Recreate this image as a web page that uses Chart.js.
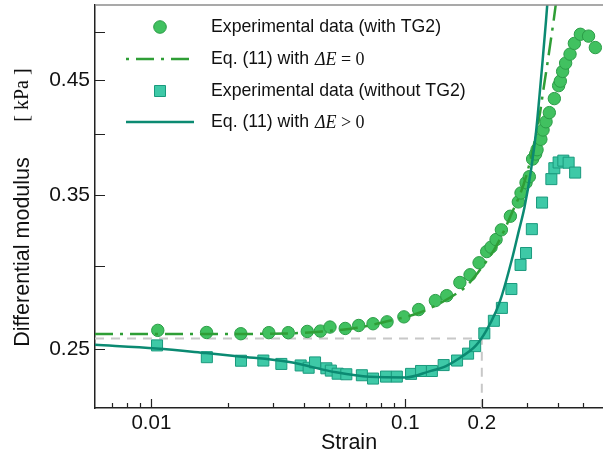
<!DOCTYPE html>
<html>
<head>
<meta charset="utf-8">
<script src="https://cdn.jsdelivr.net/npm/chart.js@4.4.1/dist/chart.umd.min.js"></script>
<style>
html, body { margin: 0; padding: 0; background: #fff; }
#wrap { position: relative; width: 603px; height: 457px; }
</style>
</head>
<body>
<div id="wrap"><canvas id="graph"></canvas></div>
<script>
// experimental data, with TG2 (circles)
var withTg2Strain = [0.0106, 0.0165, 0.0225, 0.0290, 0.0346, 0.0411, 0.0463, 0.0505, 0.0580, 0.0655,
  0.0746, 0.0847, 0.0987, 0.1128, 0.1313, 0.1455, 0.1639, 0.1798, 0.1951, 0.2090,
  0.2175, 0.2276, 0.2388, 0.2591, 0.2785, 0.2854, 0.2986, 0.3077, 0.3170, 0.3258,
  0.3300, 0.3416, 0.3484, 0.3580, 0.3689, 0.3860, 0.4013, 0.4075, 0.4161, 0.4276,
  0.4450, 0.4628, 0.4887, 0.5264, 0.5598];
var withTg2Modulus = [0.2606, 0.2594, 0.2587, 0.2593, 0.2593, 0.2600, 0.2602, 0.2625, 0.2617, 0.2634,
  0.2644, 0.2655, 0.2684, 0.2727, 0.2781, 0.2811, 0.2893, 0.2942, 0.3020, 0.3095,
  0.3125, 0.3177, 0.3245, 0.3343, 0.3449, 0.3517, 0.3597, 0.3644, 0.3787, 0.3829,
  0.3865, 0.3954, 0.4035, 0.4108, 0.4191, 0.4321, 0.4445, 0.4489, 0.4585, 0.4669,
  0.4761, 0.4874, 0.4972, 0.4952, 0.4830];

// experimental data, without TG2 (squares)
var withoutTg2Strain = [0.01053, 0.01654, 0.02254, 0.02760, 0.03249, 0.03871, 0.04162, 0.04410, 0.04887, 0.05089,
  0.05413, 0.05857, 0.06742, 0.07461, 0.08395, 0.09257, 0.1053, 0.1153, 0.1272, 0.1415,
  0.1598, 0.1766, 0.1883, 0.2046, 0.2231, 0.2399, 0.2615, 0.2841, 0.2986, 0.3148,
  0.3453, 0.3757, 0.3860, 0.4013, 0.4188, 0.4394, 0.4661];
var withoutTg2Modulus = [0.2522, 0.2458, 0.2439, 0.2440, 0.2422, 0.2414, 0.2402, 0.2430, 0.2399, 0.2387,
  0.2371, 0.2368, 0.2363, 0.2346, 0.2356, 0.2356, 0.2370, 0.2385, 0.2385, 0.2416,
  0.2440, 0.2477, 0.2518, 0.2589, 0.2661, 0.2737, 0.2852, 0.3006, 0.3085, 0.3250,
  0.3444, 0.3625, 0.3712, 0.3759, 0.3774, 0.3757, 0.3677];

// Eq. (11) with dE = 0 (dash-dot)
var fitFlatStrain = [0.006, 0.01545, 0.03494, 0.04712, 0.06471, 0.08889, 0.1135, 0.1490, 0.1734, 0.2016,
  0.2276, 0.2608, 0.2986, 0.3370, 0.3493, 0.3633, 0.3730, 0.3837, 0.3966];
var fitFlatModulus = [0.2585, 0.2585, 0.2589, 0.2600, 0.2621, 0.2665, 0.2708, 0.2797, 0.2869, 0.2997,
  0.3130, 0.3353, 0.3644, 0.4153, 0.4401, 0.4682, 0.4890, 0.5126, 0.5448];

// Eq. (11) with dE > 0 (solid)
var fitDropStrain = [0.006, 0.01046, 0.01642, 0.02222, 0.03494, 0.05335, 0.07215, 0.1006, 0.1243, 0.1446,
  0.1681, 0.1898, 0.2078, 0.2276, 0.2382, 0.2645, 0.2785, 0.2942, 0.3125, 0.3270,
  0.3370, 0.3472, 0.3580, 0.3656];
var fitDropModulus = [0.2525, 0.2505, 0.2480, 0.2462, 0.2432, 0.2378, 0.2355, 0.2352, 0.2383, 0.2411,
  0.2464, 0.2522, 0.2602, 0.2717, 0.2797, 0.3062, 0.3224, 0.3405, 0.3699, 0.4018,
  0.4335, 0.4699, 0.5126, 0.5471];

// grey dashed guide
var guideStrain = [0.006, 0.2, 0.2];
var guideModulus = [0.256, 0.256, 0.22];

var xMin = 0.006, xMax = 0.6;
var yMin = 0.22, yMax = 0.53;
var xMajorTicks = [0.01, 0.1, 0.2];
var xMajorLabels = ['0.01', '0.1', '0.2'];
var xMinorTicks = [0.007, 0.008, 0.009, 0.02, 0.03, 0.04, 0.05, 0.06, 0.07, 0.08, 0.09, 0.3, 0.4, 0.5];
var yTickValues = [0.25, 0.3, 0.35, 0.4, 0.45, 0.5];
var yTickLabels = ['0.25', '', '0.35', '', '0.45', ''];

var legendLabels = ['Experimental data (with TG2)', 'Eq. (11) with ', 'Experimental data (without TG2)', 'Eq. (11) with '];
var legendMath = ['', ['\u0394E', ' = 0'], '', ['\u0394E', ' > 0']];

var SANS = '"Liberation Sans", Arial, sans-serif';
var SERIF = '"Liberation Serif", "Times New Roman", serif';

function pairs(xs, ys) {
  var out = [];
  for (var i = 0; i < xs.length; i++) {
    out.push({x: xs[i], y: ys[i]});
  }
  return out;
}

var greenLine = '#2f9e36';
var tealLine = '#0b8a72';

var frame = {
  id: 'frame',
  afterDraw: function(chart) {
    var ctx = chart.ctx;
    var a = chart.chartArea;
    var xs = chart.scales.x, ys = chart.scales.y;
    var i, p;
    ctx.save();
    ctx.strokeStyle = '#8c8c8c';
    ctx.lineWidth = 1.5;
    ctx.beginPath();
    ctx.moveTo(a.left, a.top);
    ctx.lineTo(a.right, a.top);
    ctx.stroke();

    ctx.strokeStyle = '#222';
    ctx.lineWidth = 1.2;
    ctx.beginPath();
    for (i = 0; i < yTickValues.length; i++) {
      p = Math.round(ys.getPixelForValue(yTickValues[i])) + 0.5;
      ctx.moveTo(a.left, p);
      ctx.lineTo(a.left + 10, p);
    }
    for (i = 0; i < xMajorTicks.length; i++) {
      p = Math.round(xs.getPixelForValue(xMajorTicks[i])) + 0.5;
      ctx.moveTo(p, a.bottom);
      ctx.lineTo(p, a.bottom - 9);
    }
    for (i = 0; i < xMinorTicks.length; i++) {
      p = Math.round(xs.getPixelForValue(xMinorTicks[i])) + 0.5;
      ctx.moveTo(p, a.bottom);
      ctx.lineTo(p, a.bottom - 5);
    }
    ctx.stroke();

    // y axis title, mixed fonts
    ctx.fillStyle = '#111';
    ctx.textAlign = 'center';
    ctx.textBaseline = 'middle';
    ctx.translate(23, 0);
    ctx.rotate(-Math.PI / 2);
    ctx.font = '21.5px ' + SANS;
    ctx.fillText('Differential modulus', -252, 0);
    ctx.font = '20px ' + SERIF;
    ctx.fillText('[ kPa ]', -95, 0);
    ctx.restore();
  }
};

var legendBox = {
  id: 'legendBox',
  afterDraw: function(chart) {
    var ctx = chart.ctx;
    var ds = chart.data.datasets;
    var rows = [27, 59, 91, 122];
    ctx.save();

    // circle
    ctx.beginPath();
    ctx.arc(160, rows[0], 6.3, 0, Math.PI * 2);
    ctx.fillStyle = ds[3].backgroundColor;
    ctx.fill();
    ctx.lineWidth = 1;
    ctx.strokeStyle = ds[3].borderColor;
    ctx.stroke();

    // dash-dot
    ctx.beginPath();
    ctx.setLineDash([3, 7, 18, 7]);
    ctx.lineWidth = ds[1].borderWidth;
    ctx.strokeStyle = ds[1].borderColor;
    ctx.moveTo(126, rows[1]);
    ctx.lineTo(191, rows[1]);
    ctx.stroke();
    ctx.setLineDash([]);

    // square
    ctx.beginPath();
    ctx.rect(154.5, rows[2] - 5.5, 11, 11);
    ctx.fillStyle = ds[2].backgroundColor;
    ctx.fill();
    ctx.lineWidth = 1;
    ctx.strokeStyle = ds[2].borderColor;
    ctx.stroke();

    // solid
    ctx.beginPath();
    ctx.lineWidth = ds[0].borderWidth;
    ctx.strokeStyle = ds[0].borderColor;
    ctx.moveTo(126, rows[3]);
    ctx.lineTo(194, rows[3]);
    ctx.stroke();

    ctx.fillStyle = '#111';
    ctx.textAlign = 'left';
    ctx.textBaseline = 'middle';
    for (var i = 0; i < legendLabels.length; i++) {
      ctx.font = '17.7px ' + SANS;
      ctx.fillText(legendLabels[i], 211, rows[i]);
      if (legendMath[i]) {
        var x = 211 + ctx.measureText(legendLabels[i]).width + 1;
        ctx.font = 'italic 18px ' + SERIF;
        ctx.fillText(legendMath[i][0], x, rows[i] + 1);
        x += ctx.measureText(legendMath[i][0]).width;
        ctx.font = '18px ' + SERIF;
        ctx.fillText(legendMath[i][1], x, rows[i] + 1);
      }
    }
    ctx.restore();
  }
};

function init() {
  Chart.defaults.font.family = SANS;
  Chart.defaults.color = '#111';

  var ctx = document.getElementById('graph');
  new Chart(ctx, {
    type: 'scatter',
    data: {
      datasets: [{
        label: 'Eq. (11) with \u0394E > 0',
        data: pairs(fitDropStrain, fitDropModulus),
        showLine: true,
        borderColor: tealLine,
        borderWidth: 2.5,
        pointRadius: 0,
        cubicInterpolationMode: 'monotone',
        order: 1
      }, {
        label: 'Eq. (11) with \u0394E = 0',
        data: pairs(fitFlatStrain, fitFlatModulus),
        showLine: true,
        borderColor: greenLine,
        borderWidth: 2.5,
        borderDash: [18, 7, 3, 7],
        pointRadius: 0,
        cubicInterpolationMode: 'monotone',
        order: 2
      }, {
        label: 'Experimental data (without TG2)',
        data: pairs(withoutTg2Strain, withoutTg2Modulus),
        pointStyle: 'rect',
        pointRadius: 7.8,
        backgroundColor: '#3ec9a7',
        borderColor: '#1a9a7d',
        borderWidth: 1,
        order: 3
      }, {
        label: 'Experimental data (with TG2)',
        data: pairs(withTg2Strain, withTg2Modulus),
        pointStyle: 'circle',
        pointRadius: 6.2,
        backgroundColor: '#41c160',
        borderColor: '#2b9c47',
        borderWidth: 1,
        order: 4
      }, {
        label: 'guide',
        data: pairs(guideStrain, guideModulus),
        showLine: true,
        borderColor: '#c8c8c8',
        borderWidth: 2,
        borderDash: [9, 7],
        pointRadius: 0,
        order: 5
      }]
    },
    options: {
      responsive: true,
      maintainAspectRatio: false,
      animation: false,
      devicePixelRatio: 1,
      events: [],
      layout: { autoPadding: false, padding: { top: 5, right: 0, left: 0, bottom: 0 } },
      plugins: {
        legend: { display: false },
        tooltip: { enabled: false }
      },
      scales: {
        x: {
          type: 'logarithmic',
          min: xMin,
          max: xMax,
          grid: { display: false, drawTicks: false },
          border: { display: true, color: '#222', width: 1.5 },
          afterBuildTicks: function(scale) {
            scale.ticks = xMajorTicks.map(function(v) { return {value: v}; });
          },
          afterFit: function(scale) {
            scale.height = 49;
            scale.paddingLeft = 0;
            scale.paddingRight = 0;
          },
          ticks: {
            autoSkip: false,
            maxRotation: 0,
            padding: 3,
            font: { size: 20.5 },
            color: '#111',
            callback: function(value) {
              var i = xMajorTicks.indexOf(value);
              return i >= 0 ? xMajorLabels[i] : '';
            }
          },
          title: {
            display: true,
            text: 'Strain',
            color: '#111',
            font: { size: 21.5 },
            padding: { top: 0, bottom: 1 }
          }
        },
        y: {
          type: 'logarithmic',
          min: yMin,
          max: yMax,
          grid: { display: false, drawTicks: false },
          border: { display: true, color: '#222', width: 1.5 },
          afterBuildTicks: function(scale) {
            scale.ticks = yTickValues.map(function(v) { return {value: v}; });
          },
          afterFit: function(scale) {
            scale.width = 95;
            scale.paddingTop = 0;
            scale.paddingBottom = 0;
          },
          ticks: {
            autoSkip: false,
            padding: 5,
            font: { size: 21 },
            color: '#111',
            callback: function(value) {
              var i = yTickValues.indexOf(value);
              return i >= 0 ? yTickLabels[i] : '';
            }
          }
        }
      }
    },
    plugins: [frame, legendBox]
  });
}

init();
</script>
</body>
</html>
